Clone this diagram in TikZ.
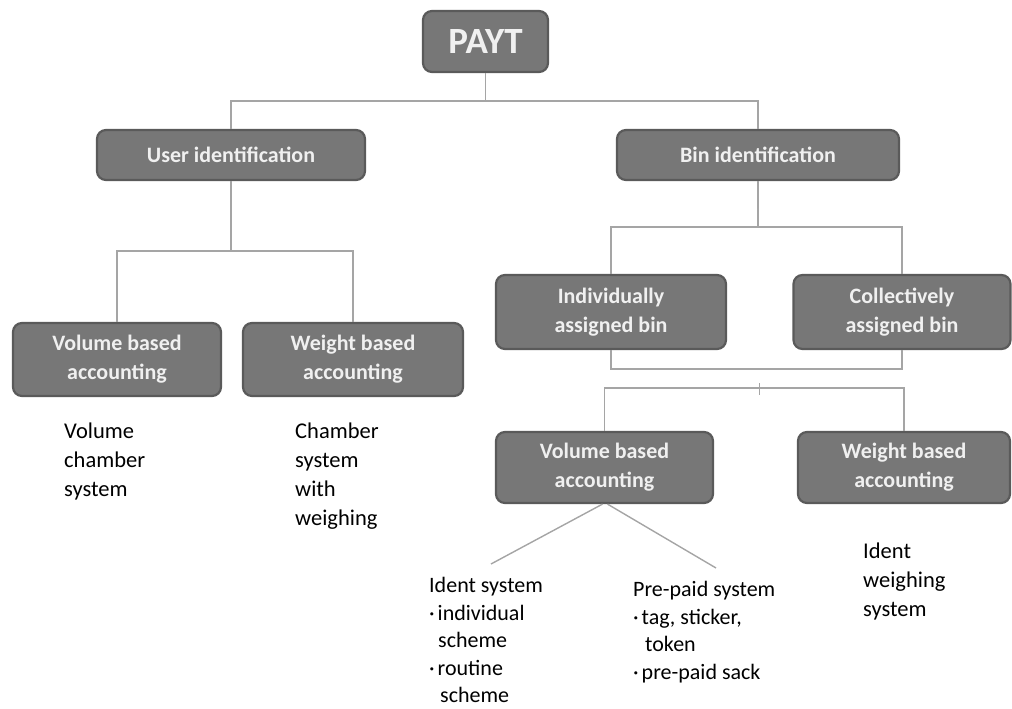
\documentclass[tikz,border=0pt]{standalone}
\usepackage{fontspec}
\setmainfont{Carlito}
\definecolor{boxfill}{HTML}{777777}
\definecolor{boxborder}{HTML}{5A5A5A}
\definecolor{linegray}{HTML}{A5A5A5}
\begin{document}
\begin{tikzpicture}[x=1pt,y=-1pt,
  box/.style={draw=boxborder, line width=2.2pt, fill=boxfill, rounded corners=9pt,
    text=white!94!black, font=\bfseries\fontsize{22}{29}\selectfont, align=center, inner sep=0pt},
  conn/.style={draw=linegray, line width=1.4pt},
  note/.style={font=\fontsize{22.5}{28.8}\selectfont, align=left, anchor=north west, inner sep=0pt, text=black},
  bnote/.style={note, font=\fontsize{22}{27.6}\selectfont}]
\useasboundingbox (0,0) rectangle (1012,709);

% boxes
\node[box, minimum width=125pt, minimum height=61pt, font=\bfseries\fontsize{37}{40}\selectfont] (payt) at (485.5,41.5) {PAYT};
\node[box, minimum width=268pt, minimum height=50pt] (user) at (231,155) {User identification};
\node[box, minimum width=282pt, minimum height=50pt] (bin) at (758,155) {Bin identification};
\node[box, minimum width=208pt, minimum height=73pt] (vol1) at (117,359.5) {Volume based\\accounting};
\node[box, minimum width=220pt, minimum height=73pt] (wei1) at (353,359.5) {Weight based\\accounting};
\node[box, minimum width=230pt, minimum height=74pt] (indiv) at (611,312) {Individually\\assigned bin};
\node[box, minimum width=217pt, minimum height=74pt] (coll) at (902,312) {Collectively\\assigned bin};
\node[box, minimum width=217pt, minimum height=71pt] (vol2) at (604.5,467.5) {Volume based\\accounting};
\node[box, minimum width=212pt, minimum height=71pt] (wei2) at (904,467.5) {Weight based\\accounting};

% junction coordinates
\coordinate (j1) at (485.5,101);
\coordinate (j2) at (231,251);
\coordinate (j3) at (758,227);
\coordinate (j4) at (758,369);
\coordinate (j5) at (759,388);
\coordinate (tickA) at (759,383);
\coordinate (tickB) at (759,395);
\coordinate (d1) at (491,564);
\coordinate (d2) at (716,568);

% connectors
\draw[conn] (payt.south) -- (j1);
\draw[conn] (j1) -| (user.north);
\draw[conn] (j1) -| (bin.north);
\draw[conn] (user.south) -- (j2);
\draw[conn] (j2) -| (vol1.north);
\draw[conn] (j2) -| (wei1.north);
\draw[conn] (bin.south) -- (j3);
\draw[conn] (j3) -| (indiv.north);
\draw[conn] (j3) -| (coll.north);
\draw[conn] (indiv.south) |- (j4) -| (coll.south);
\draw[conn] (j5) -| (vol2.north);
\draw[conn] (j5) -| (wei2.north);
\draw[conn, line width=1pt] (tickA) -- (tickB);
\draw[conn] ([xshift=-2pt]vol2.south) -- (d1);
\draw[conn] ([xshift=3pt]vol2.south) -- (d2);

% notes
\node[note] (n1) at (64,423) {Volume\\chamber\\system};
\node[note] (n2) at (295,423) {Chamber\\system\\with\\weighing};
\node[note] (n3) at (863,543) {Ident\\weighing\\system};
\node[bnote] (n4) at (429,577) {Ident system\\{·}\hspace{3pt}individual\\\hspace*{9pt}scheme\\{·}\hspace{3pt}routine\\\hspace*{11pt}scheme};
\node[bnote] (n5) at (633,581) {Pre-paid system\\{·}\hspace{3pt}tag, sticker,\\\hspace*{12pt}token\\{·}\hspace{3pt}pre-paid\hspace{5pt}sack};
\end{tikzpicture}
\end{document}
